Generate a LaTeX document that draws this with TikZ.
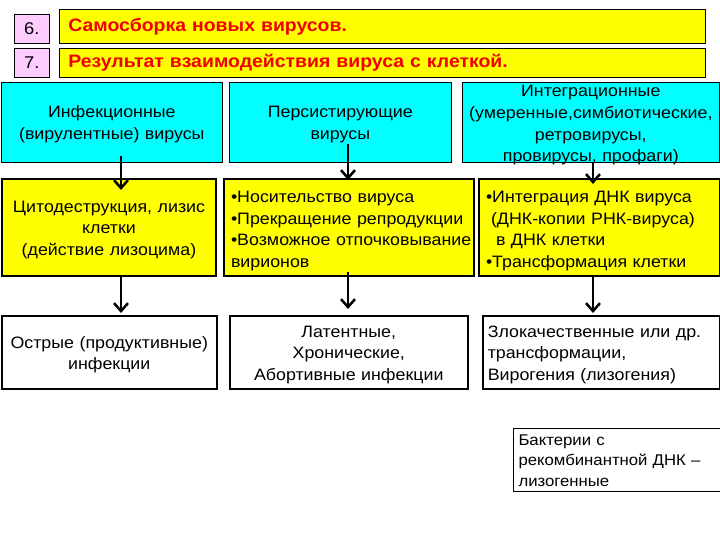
\documentclass[tikz,border=0pt]{standalone}
\usepackage{fontspec}
\setmainfont[FakeStretch=1.08]{Liberation Sans}
\usepackage{xcolor}
\definecolor{numpink}{rgb}{1,0.8,1}
\definecolor{headyellow}{rgb}{1,1,0}
\definecolor{vircyan}{rgb}{0,1,1}
\definecolor{headred}{rgb}{0.95,0,0}
\usepackage{tikz}
\usetikzlibrary{arrows.meta,positioning}

\begin{document}
\begin{tikzpicture}[x=1pt,y=-1pt,
    numbox/.style={draw=black, line width=0.8pt, fill=numpink, anchor=north west, inner sep=0pt,
      minimum width=35pt, minimum height=29pt, font=\fontsize{17}{20}\selectfont},
    headbox/.style={draw=black, line width=0.8pt, fill=headyellow, anchor=north west, inner xsep=9pt, inner ysep=0pt,
      text width=628pt, minimum height=#1, text=headred, font=\fontsize{18}{22}\bfseries\selectfont},
    typebox/.style={draw=black, line width=0.6pt, fill=vircyan, anchor=north west, inner sep=0pt,
      align=center, font=\fontsize{16.5}{21.7}\selectfont},
    effbox/.style={draw=black, line width=2pt, fill=headyellow, anchor=north west, inner ysep=0pt,
      font=\fontsize{16.5}{21.7}\selectfont},
    outbox/.style={draw=black, line width=1.5pt, fill=white, anchor=north west, inner ysep=0pt,
      font=\fontsize{16.5}{21.5}\selectfont},
    arr/.style={line width=2.5pt, -{Straight Barb[length=8pt,width=14pt]}}]
  \useasboundingbox[fill=white] (0,0) rectangle (720,540);

  % Steps 6 and 7
  \node[numbox] (n6) at (14,14) {6.};
  \node[numbox] (n7) at (14,48) {7.};
  \node[headbox=34pt] (h6) at (59,9) {Самосборка новых вирусов.};
  \node[headbox=29pt] (h7) at (59,48) {Результат взаимодействия вируса с клеткой.};

  % Types of viruses
  \node[typebox, text width=221pt, text height=35.5pt, text depth=44.5pt] (cinf) at (1,82)
    {Инфекционные\\(вирулентные)~вирусы};
  \node[typebox, text width=222pt, text height=35.5pt, text depth=44.5pt] (cpers) at (229,82)
    {Персистирующие\\вирусы};
  \node[typebox, text width=257pt, text height=14.5pt, text depth=65.5pt] (cintg) at (462,82)
    {Интеграционные\\(умеренные,симбиотические,\\ретровирусы,\\провирусы,~профаги)};

  % Effect on the cell
  \node[effbox, text width=214pt, inner xsep=0pt, align=center, text height=33pt, text depth=64pt] (ylys) at (1,178)
    {Цитодеструкция,~лизис\\клетки\\(действие~лизоцима)};
  \node[effbox, minimum width=250pt, text width=236pt, inner xsep=7pt, align=left,
    text height=23.5pt, text depth=73.5pt] (ycarr) at (223,178)
    {•Носительство~вируса\\•Прекращение~репродукции\\•Возможное~отпочковывание\\вирионов};
  \node[effbox, minimum width=241pt, text width=227pt, inner xsep=7pt, align=left,
    text height=23.5pt, text depth=73.5pt] (yintg) at (478,178)
    {•Интеграция~ДНК~вируса\\\hspace*{5pt}(ДНК-копии~РНК-вируса)\\\hspace*{10pt}в~ДНК~клетки\\•Трансформация~клетки};

  % Outcome of the infection
  \node[outbox, text width=215pt, inner xsep=0pt, align=center, text height=32.5pt, text depth=40.5pt] (oacut) at (1,315)
    {Острые~(продуктивные)\\инфекции};
  \node[outbox, text width=238pt, inner xsep=0pt, align=center, text height=21.5pt, text depth=51.5pt] (olat) at (229,315)
    {Латентные,\\Хронические,\\Абортивные~инфекции};
  \node[outbox, minimum width=237pt, text width=227pt, inner xsep=5pt, align=left,
    text height=21.5pt, text depth=51.5pt] (omal) at (482,315)
    {Злокачественные~или~др.\\трансформации,\\Вирогения~(лизогения)};
  \node[draw=black, line width=1pt, anchor=north west, minimum width=210pt, text width=200pt,
    inner xsep=5pt, inner ysep=0pt, align=left, text height=16.5pt, text depth=46.5pt,
    font=\fontsize{15.5}{20.5}\selectfont] (bact) at (513,428)
    {Бактерии~с\\рекомбинантной~ДНК~–\\лизогенные};

  % Arrows
  \coordinate (c1) at (121,0);
  \coordinate (c2) at (348,0);
  \coordinate (c3) at (593,0);
  \draw[arr, shorten <=-7pt, shorten >=-12pt] (cinf.south -| c1) -- (ylys.north -| c1);
  \draw[arr, shorten <=-19pt, shorten >=-2pt] (cpers.south -| c2) -- (ycarr.north -| c2);
  \draw[arr, shorten >=-6pt] (cintg.south -| c3) -- (yintg.north -| c3);
  \draw[arr, shorten >=2pt] (ylys.south -| c1) -- (oacut.north -| c1);
  \draw[arr, shorten <=-5pt, shorten >=6pt] (ycarr.south -| c2) -- (olat.north -| c2);
  \draw[arr, shorten >=2pt] (yintg.south -| c3) -- (omal.north -| c3);
\end{tikzpicture}
\end{document}
